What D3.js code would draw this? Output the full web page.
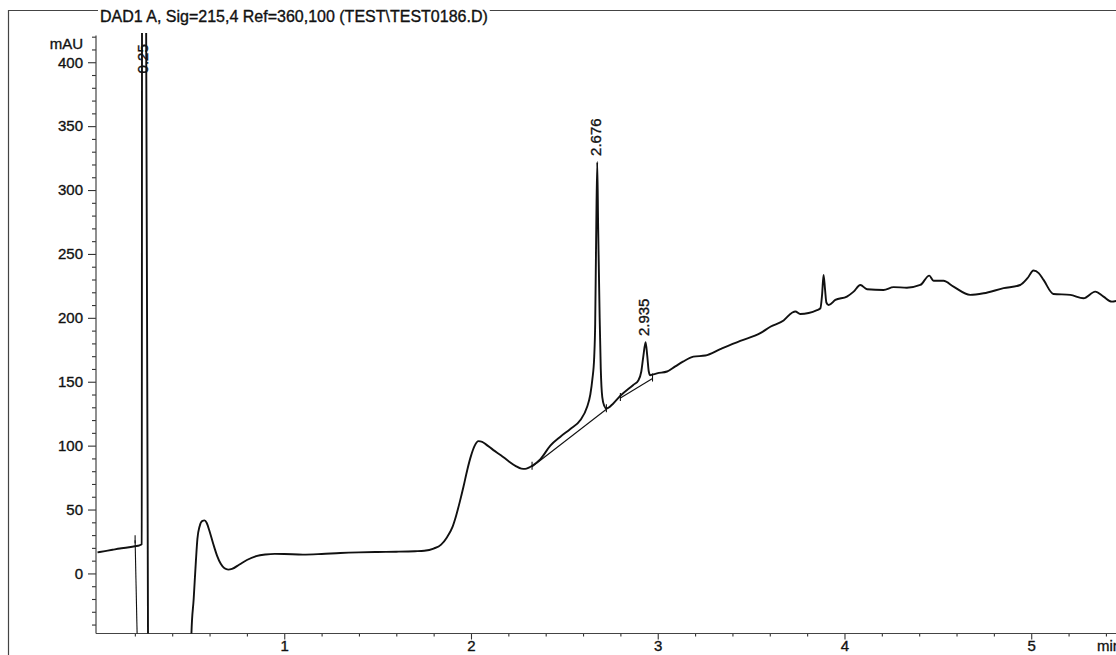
<!DOCTYPE html>
<html lang="en">
<head>
<meta charset="UTF-8">
<title>DAD1 A chromatogram</title>
<script src="https://d3js.org/d3.v7.min.js"></script>
<style>
  html,body{margin:0;padding:0;background:#fff}
  svg{display:block;font-family:"Liberation Sans",Arial,Helvetica,sans-serif}
  .trace{fill:none;stroke:#111;stroke-width:1.9px;stroke-linejoin:round}
  .base{fill:none;stroke:#111;stroke-width:1.1px}
  .frame{stroke:#444;stroke-width:1.2px}
  .axis path{display:none}
  .axis line{stroke:#333;stroke-width:1.1px}
  .axis text{font-size:15px;fill:#111;stroke:#111;stroke-width:0.35px}
  .lbl{font-size:15px;fill:#111;stroke:#111;stroke-width:0.35px}
</style>
</head>
<body>
<svg id="chart" width="1116" height="655"></svg>
<script>
/* --- data --- */
const title="DAD1 A, Sig=215,4 Ref=360,100 (TEST\\TEST0186.D)";
const yLabel="mAU", xLabel="min";
const yTicks=[0,50,100,150,200,250,300,350,400];
const xTicks=[1,2,3,4,5];

// retention time (min) / signal (mAU)
const times=[0.000,0.040,0.080,0.120,0.160,0.200,0.225,0.237,0.2393,0.2548,0.2778,0.400,0.490,0.503,0.515,0.527,0.535,0.547,0.560,0.573,
  0.585,0.600,0.620,0.640,0.660,0.680,0.700,0.720,0.760,0.800,0.850,0.900,0.950,1.000,1.100,1.200,1.300,1.400,1.500,1.600,
  1.700,1.750,1.800,1.840,1.870,1.900,1.920,1.940,1.960,1.980,2.000,2.020,2.040,2.060,2.080,2.120,2.160,2.200,2.240,2.270,
  2.290,2.310,2.330,2.372,2.425,2.479,2.532,2.586,2.621,2.639,2.650,2.660,2.665,2.670,2.676,2.681,2.689,2.695,2.703,2.714,
  2.725,2.762,2.800,2.869,2.896,2.912,2.923,2.935,2.944,2.952,2.960,2.970,2.996,3.050,3.094,3.135,3.191,3.255,3.335,3.442,
  3.549,3.603,3.674,3.719,3.737,3.763,3.853,3.871,3.880,3.888,3.896,3.903,3.915,3.951,4.013,4.049,4.085,4.121,4.209,4.263,
  4.334,4.406,4.454,4.477,4.530,4.584,4.673,4.745,4.852,4.941,4.980,5.012,5.040,5.066,5.119,5.209,5.280,5.343,5.387,5.432,
  5.476,5.500];
const signal=[16.5,17.5,18.5,19.5,20.3,21.3,22.0,23.0,700,700,-400,-500,-300,-47,-20,10,27,37,41,41.5,
  39.5,33,23,14,7.5,4,3,3.5,7,10.5,13.5,14.8,15.3,15.2,14.7,15.2,16.0,16.5,16.8,17.0,
  17.4,17.8,19.5,22.5,28,36,45,56,68,81,92,100,103.5,103,101,96.5,92.5,88,84,82,
  81.8,82.8,84.5,89.5,100,107,113,120,130,140,152,170,195,260,322,270,200,160,138,131,
  129,133,139,147.5,151,158,170,181,170,158,155,155.5,156.6,158,162,165.7,169.6,170.5,175.5,182,
  188,193,198,204,205,203,206,207.5,218,233.6,222,212,210,214,216.6,220.5,225.7,222.4,221.8,224,
  223.6,225.7,233,229,229,224.4,218,219.2,223.2,225.7,231,237,235,229.7,218.7,218,215.3,220.5,216.6,212.7,
  214,215];

// integrated peaks: label, apex, baseline ends
const peakText=["0.25","2.676","2.935"];
const peakTime=[0.25,2.676,2.935];
const peakTop=[700,322,181];
const baseStartT=[0.2014,2.327,2.800], baseStartV=[26,83.5,137.3];
const baseEndT=[0.214,2.725,2.972],   baseEndV=[-60,128.5,152.5];

/* --- scales --- */
const svg=d3.select("#chart");
const x=d3.scaleLinear().domain([0,5.5]).range([97.5,1124.6]);
const y=d3.scaleLinear().domain([-47,421]).range([633.5,35.4]);
const axX=96, axY=633.5;

svg.append("defs").append("clipPath").attr("id","plot")
   .append("rect").attr("x",axX).attr("y",33).attr("width",1116-axX).attr("height",axY-33);

/* --- frame and title --- */
svg.append("line").attr("class","frame").attr("x1",8.5).attr("x2",8.5).attr("y1",10).attr("y2",655);
svg.append("line").attr("class","frame").attr("x1",8).attr("x2",1116).attr("y1",10.5).attr("y2",10.5);
const tt=svg.append("text").attr("x",100).attr("y",22).style("font-size","16px")
            .attr("fill","#111").attr("stroke","#111").attr("stroke-width",0.35).text(title);
const bb=tt.node().getBBox();
svg.insert("rect","text").attr("x",bb.x-2).attr("y",bb.y).attr("width",bb.width+4).attr("height",bb.height).attr("fill","#fff");

/* --- axes --- */
const minorY=d3.range(-40,421,10).filter(v=>v%50!==0);
const minorX=d3.range(1,28).map(i=>i*0.2).filter(v=>Math.abs(v-Math.round(v))>1e-6);

svg.append("g").attr("class","axis").attr("transform",`translate(${axX},0)`)
   .call(d3.axisLeft(y).tickValues(minorY).tickSize(4).tickFormat(""));
svg.append("g").attr("class","axis").attr("transform",`translate(${axX},0)`)
   .call(d3.axisLeft(y).tickValues(yTicks).tickSize(8).tickPadding(5));
svg.append("g").attr("class","axis").attr("transform",`translate(0,${axY})`)
   .call(d3.axisBottom(x).tickValues(minorX).tickSize(3).tickFormat(""));
svg.append("g").attr("class","axis").attr("transform",`translate(0,${axY})`)
   .call(d3.axisBottom(x).tickValues(xTicks).tickSize(6).tickPadding(1).tickFormat(d3.format("d")));

svg.append("line").attr("class","frame").attr("x1",axX).attr("x2",axX).attr("y1",y.range()[1]).attr("y2",axY);
svg.append("line").attr("class","frame").attr("x1",axX).attr("x2",1116).attr("y1",axY).attr("y2",axY);

svg.append("text").attr("class","lbl").attr("x",83).attr("y",48.5).attr("text-anchor","end").text(yLabel);
svg.append("text").attr("class","lbl").attr("x",1097).attr("y",651).text(xLabel);

/* --- signal and baselines --- */
const plot=svg.append("g").attr("clip-path","url(#plot)");
const line=d3.line().x(i=>x(times[i])).y(i=>y(signal[i])).curve(d3.curveMonotoneX);
plot.append("path").attr("class","trace").attr("d",line(d3.range(times.length)));

peakTime.forEach((t,i)=>{
  plot.append("line").attr("class","base")
      .attr("x1",x(baseStartT[i])).attr("y1",y(baseStartV[i]))
      .attr("x2",x(baseEndT[i])).attr("y2",y(baseEndV[i]));
  [[baseStartT[i],baseStartV[i]],[baseEndT[i],baseEndV[i]]].forEach(([bt,bv])=>{
    plot.append("line").attr("class","base")
        .attr("x1",x(bt)).attr("x2",x(bt)).attr("y1",y(bv)-5).attr("y2",y(bv)+3);
  });
});

/* --- retention time labels --- */
peakTime.forEach((t,i)=>{
  const ly=Math.max(y(peakTop[i])-6,y.range()[1]+38), lx=x(t)-2;
  svg.append("text").attr("class","lbl")
     .attr("transform",`translate(${lx},${ly}) rotate(-90)`)
     .attr("dy","0.36em").text(peakText[i]);
});
</script>
</body>
</html>
